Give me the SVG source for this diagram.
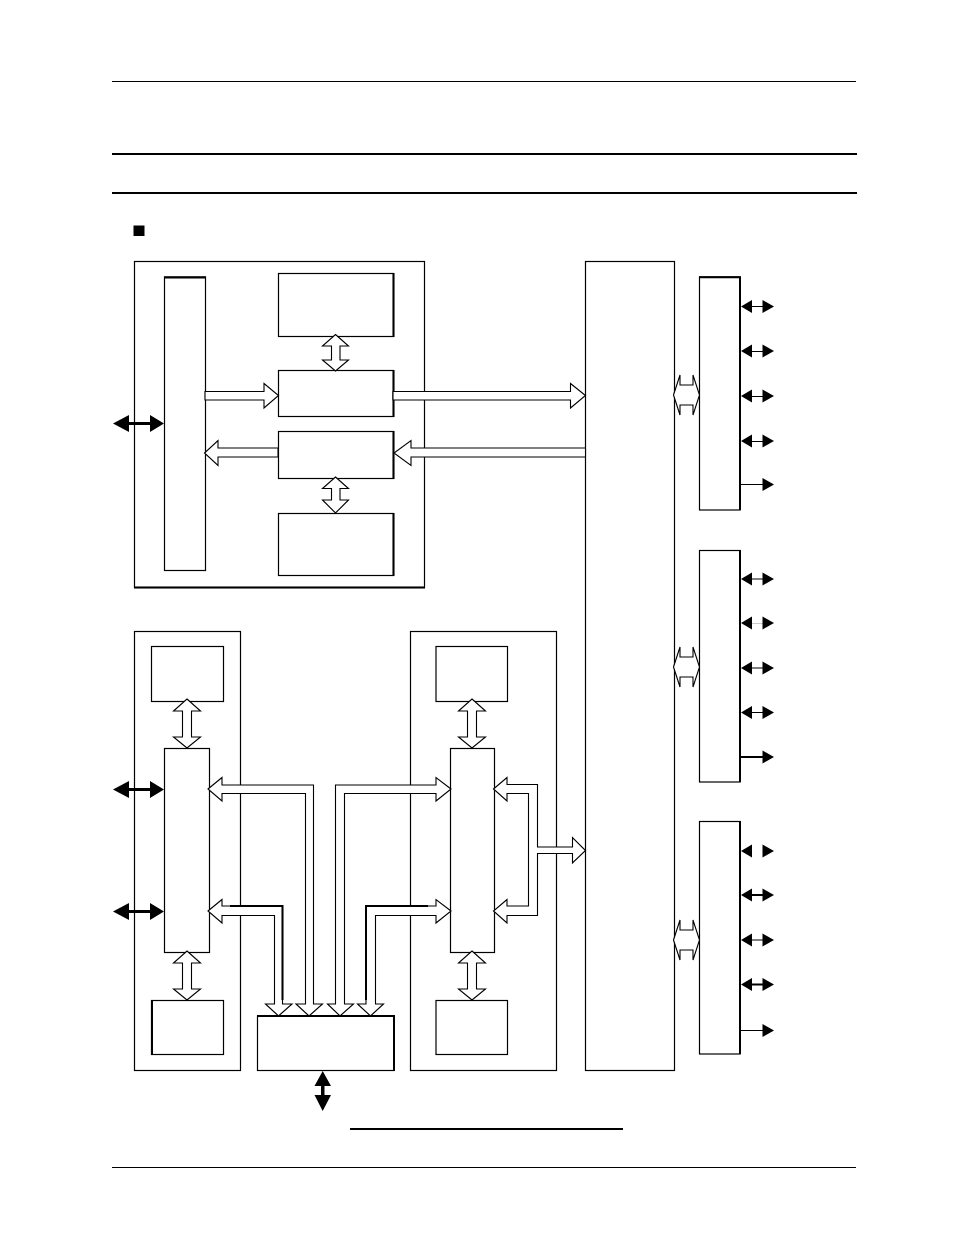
<svg xmlns="http://www.w3.org/2000/svg" width="954" height="1235" viewBox="0 0 954 1235">
<style>
.box{fill:#fff;stroke:#000;stroke-width:1.2}
.edge{fill:none;stroke:#000;stroke-width:2}
.open{fill:#fff;stroke:#000;stroke-width:1.1;stroke-linejoin:miter}
.solid{fill:#000;stroke:none}
.w1{stroke:#000;stroke-width:1;fill:none}
.w3{stroke:#000;stroke-width:3;fill:none}
.rule{stroke:#000;fill:none}
</style>
<defs>
<polygon id="hr" class="solid" points="0,-6.5 11.5,0 0,6.5"/>
<polygon id="hl" class="solid" points="0,0 11,-6.5 11,6.5"/>
<g id="thick"><polygon class="solid" points="0,0 16,-8.5 16,8.5"/><polygon class="solid" points="51,0 37,-8.5 37,8.5"/><line x1="10" x2="42" y1="0" y2="0" class="w3"/></g>
<polygon id="dbl" class="open" points="673.5,0 680,-20 680,-10 693,-10 693,-20 699.5,0 693,20 693,10 680,10 680,20"/>
</defs>
<g id="page-rules">
<line class="rule" x1="112" x2="856" y1="81.5" y2="81.5" stroke-width="1"/>
<line class="rule" x1="112" x2="857" y1="154" y2="154" stroke-width="2"/>
<line class="rule" x1="112" x2="857" y1="193" y2="193" stroke-width="2"/>
<line class="rule" x1="112" x2="856" y1="1167.5" y2="1167.5" stroke-width="1"/>
<line class="rule" x1="350" x2="623" y1="1129" y2="1129" stroke-width="2"/>
<rect id="bullet" x="133.5" y="225.5" width="11" height="10.5" fill="#000"/>
</g>
<g id="group-top"><rect class="box" x="134.5" y="261.5" width="290" height="326"/><line class="edge" x1="134" x2="425" y1="587.5" y2="587.5"/></g>
<g id="group-left"><rect class="box" x="134.5" y="631.5" width="106" height="439"/></g>
<g id="group-right"><rect class="box" x="410.5" y="631.5" width="146" height="439"/></g>
<g id="top-tall"><rect class="box" x="164.5" y="277" width="41" height="293.5"/><line class="edge" x1="164" x2="206" y1="277.5" y2="277.5"/></g>
<g id="top-a"><rect class="box" x="278.5" y="273.5" width="115" height="63"/><line class="edge" x1="393.5" x2="393.5" y1="273" y2="337"/></g>
<g id="top-b"><rect class="box" x="278.5" y="370.5" width="115" height="46"/><line class="edge" x1="393.5" x2="393.5" y1="370" y2="417"/></g>
<g id="top-c"><rect class="box" x="278.5" y="431.5" width="115" height="47"/><line class="edge" x1="393.5" x2="393.5" y1="431" y2="479"/></g>
<g id="top-d"><rect class="box" x="278.5" y="513.5" width="115" height="62"/><line class="edge" x1="393.5" x2="393.5" y1="513" y2="576"/></g>
<g id="big-column"><rect class="box" x="585.5" y="261.5" width="89" height="809"/></g>
<g id="port-1"><rect class="box" x="699.5" y="277" width="40.5" height="233"/><path class="edge" d="M699 277.2H740V510"/></g>
<g id="port-2"><rect class="box" x="699.5" y="550.5" width="40.5" height="231.5"/><line class="edge" x1="740" x2="740" y1="550" y2="782"/></g>
<g id="port-3"><rect class="box" x="699.5" y="821.5" width="40.5" height="232.5"/><line class="edge" x1="740" x2="740" y1="821" y2="1054"/></g>
<g id="left-top"><rect class="box" x="151.5" y="646.5" width="72" height="55"/></g>
<g id="left-tall"><rect class="box" x="164.5" y="748.5" width="45" height="204"/></g>
<g id="left-bottom"><rect class="box" x="151.5" y="1000.5" width="72" height="54"/><line class="edge" x1="152" x2="152" y1="1000" y2="1055"/></g>
<g id="right-top"><rect class="box" x="436" y="646.5" width="71.5" height="55"/></g>
<g id="right-tall"><rect class="box" x="450.5" y="748.5" width="44" height="204"/></g>
<g id="right-bottom"><rect class="box" x="436" y="1000.5" width="71.5" height="54"/></g>
<g id="bus"><rect class="box" x="257.5" y="1016" width="136.5" height="54.5"/><path class="edge" d="M257 1016H394V1071"/></g>
<g id="connectors">
<polygon class="open" points="335.5,334.5 348.5,346 340,346 340,360 348.5,360 335.5,371 322.5,360 331.5,360 331.5,346 322.5,346"/>
<polygon class="open" points="335.5,477 348.5,488.5 340,488.5 340,500 348.5,500 335.5,513 322.5,500 331.5,500 331.5,488.5 322.5,488.5"/>
<polygon class="open" points="205,391.5 264,391.5 264,383.5 278.5,395.5 264,408 264,400 205,400"/>
<polygon class="open" points="393,391.5 570.5,391.5 570.5,383.5 585.5,395.5 570.5,408 570.5,400 393,400"/>
<polygon class="open" points="278,448 218,448 218,440.5 204.5,453 218,465.5 218,457 278,457"/>
<polygon class="open" points="585.5,448 411,448 411,440.5 394,453 411,465.5 411,457 585.5,457"/>
<use href="#thick" x="113" y="423.5"/>
<use href="#thick" x="113" y="789.5"/>
<use href="#thick" x="113" y="911.5"/>
<polygon class="open" points="187,699 200.5,711 191.5,711 191.5,737 200.5,737 187,748 173.5,737 182.5,737 182.5,711 173.5,711"/>
<polygon class="open" points="187,951 200.5,963 191.5,963 191.5,989 200.5,989 187,1000 173.5,989 182.5,989 182.5,963 173.5,963"/>
<polygon class="open" points="472,699 485.5,711 476.5,711 476.5,737 485.5,737 472,748 458.5,737 467.5,737 467.5,711 458.5,711"/>
<polygon class="open" points="472,951 485.5,963 476.5,963 476.5,989 485.5,989 472,1000 458.5,989 467.5,989 467.5,963 458.5,963"/>
<polygon class="open" points="208,789 222,777.5 222,785 313.5,785 313.5,1004 322.5,1004 309,1016 296,1004 305.5,1004 305.5,793.5 222,793.5 222,801"/>
<polygon class="open" points="208,911 222,899.5 222,906 282.5,906 282.5,1004 292,1004 278.5,1016 265.5,1004 274.5,1004 274.5,915.5 222,915.5 222,923"/>
<path class="edge" d="M230 906H282.5V1000"/>
<polygon class="open" points="451,789 436,777.5 436,785 335.5,785 335.5,1004 327.5,1004 340,1016 353.5,1004 344.5,1004 344.5,793.5 436,793.5 436,801"/>
<polygon class="open" points="451,911 436,899.5 436,906 366,906 366,1004 357.5,1004 370.5,1016 383.5,1004 375.5,1004 375.5,915.5 436,915.5 436,923"/>
<path class="edge" d="M428 906H366V1000"/>
<polygon class="open" points="493.5,789 507,777.5 507,784.5 537.5,784.5 537.5,847 572.5,847 572.5,837.5 585.5,850.5 572.5,863 572.5,853.5 537.5,853.5 537.5,915.5 507,915.5 507,923 493.5,911 507,899.5 507,906 528.5,906 528.5,793.5 507,793.5 507,801"/>
<polygon class="solid" points="322.7,1071 331,1086 324.5,1086 324.5,1095 331,1095 322.7,1111 314.5,1095 321,1095 321,1086 314.5,1086"/>
<use href="#dbl" y="395"/>
<use href="#dbl" y="667"/>
<use href="#dbl" y="940"/>
<g id="pins">
<g class="w1"><path d="M745 306.5H768M745 351.5H768M745 396.5H768M745 441.5H768M741 484.5H768M745 579H768M745 668H768M745 712.5H768M745 940H768"/></g>
<path d="M745 623.5H768" stroke="#ccc" stroke-width="1" fill="none"/>
<path d="M741 757H768M745 895H768M745 984.5H768" stroke="#000" stroke-width="2" fill="none"/>
<path d="M741 1030.5H768" stroke="#000" stroke-width="1" fill="none"/>
<use href="#hl" x="741" y="306.5"/><use href="#hr" x="762.5" y="306.5"/>
<use href="#hl" x="741" y="351"/><use href="#hr" x="762.5" y="351"/>
<use href="#hl" x="741" y="396"/><use href="#hr" x="762.5" y="396"/>
<use href="#hl" x="741" y="441"/><use href="#hr" x="762.5" y="441"/>
<use href="#hr" x="762.5" y="484.5"/>
<use href="#hl" x="741" y="579"/><use href="#hr" x="762.5" y="579"/>
<use href="#hl" x="741" y="623"/><use href="#hr" x="762.5" y="623"/>
<use href="#hl" x="741" y="668"/><use href="#hr" x="762.5" y="668"/>
<use href="#hl" x="741" y="712.5"/><use href="#hr" x="762.5" y="712.5"/>
<use href="#hr" x="762.5" y="757"/>
<use href="#hl" x="741" y="851"/><use href="#hr" x="762.5" y="851"/>
<use href="#hl" x="741" y="895"/><use href="#hr" x="762.5" y="895"/>
<use href="#hl" x="741" y="940"/><use href="#hr" x="762.5" y="940"/>
<use href="#hl" x="741" y="984.5"/><use href="#hr" x="762.5" y="984.5"/>
<use href="#hr" x="762.5" y="1030.5"/>
</g>
</g>
</svg>
